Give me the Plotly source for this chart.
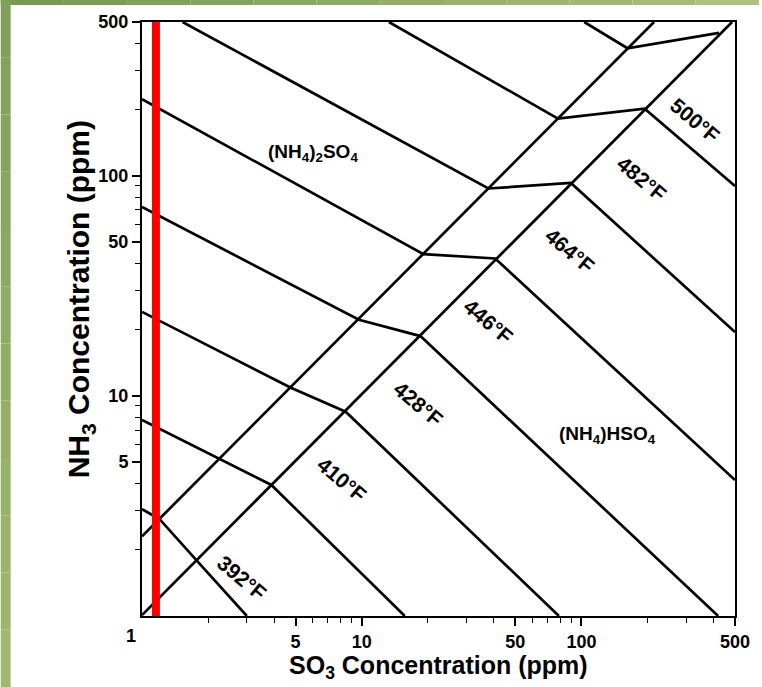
import math
import plotly.graph_objects as go

# ---------------- data ----------------
# phase boundaries (SO3 ppm, NH3 ppm)
bound_upper_so3 = [1.0, 214.0]
bound_upper_nh3 = [2.30, 500.0]
bound_lower_so3 = [1.0, 485.0]
bound_lower_nh3 = [1.01, 500.0]

# isotherms, lowest to highest
iso1_so3 = [1.00, 1.20, 1.78, 3.00]
iso1_nh3 = [3.06, 2.76, 1.78, 1.00]
iso2_so3 = [1.00, 2.26, 3.88, 15.7]
iso2_nh3 = [7.78, 5.17, 3.94, 1.00]
iso3_so3 = [1.00, 4.76, 8.45, 79.0]
iso3_nh3 = [24.1, 10.9, 8.48, 1.00]
iso4_so3 = [1.00, 9.71, 18.5, 419.0]
iso4_nh3 = [72.2, 22.2, 18.7, 1.00]
iso5_so3 = [1.00, 19.1, 40.5, 500.0]
iso5_nh3 = [223.0, 44.1, 42.1, 4.15]
iso6_so3 = [1.53, 37.7, 89.5, 500.0]
iso6_nh3 = [500.0, 87.6, 92.8, 19.5]
iso7_so3 = [13.3, 78.2, 194.0, 500.0]
iso7_nh3 = [500.0, 182.0, 202.0, 89.9]
iso8_so3 = [103.0, 162.0, 423.0]
iso8_nh3 = [500.0, 380.0, 446.0]

temp_labels = ["392°F", "410°F", "428°F", "446°F", "464°F", "482°F", "500°F"]
temp_label_so3 = [2.84, 8.13, 17.97, 37.7, 88.6, 188.0, 330.0]
temp_label_nh3 = [1.50, 4.19, 9.19, 21.7, 46.0, 97.7, 179.0]

phase_labels = ["(NH<sub>4</sub>)<sub>2</sub>SO<sub>4</sub>", "(NH<sub>4</sub>)HSO<sub>4</sub>"]
phase_label_so3 = [6.0, 131.6]
phase_label_nh3 = [126.9, 6.64]

red_line_so3 = [1.157, 1.157]
red_line_nh3 = [1.0, 500.0]

x_tick_vals = [5, 10, 50, 100, 500]
x_tick_text = ["5", "10", "50", "100", "500"]
y_tick_vals = [5, 10, 50, 100, 500]
y_tick_text = ["5", "10", "50", "100", "500"]
minor_vals = [2, 3, 4, 6, 7, 8, 9, 20, 30, 40, 60, 70, 80, 90,
              200, 300, 400]

# ---------------- figure ----------------
W, H = 762, 687
L, R, T, B = 142, 24, 22, 71
PW, PH = W - L - R, H - T - B


def px(xp):
    return (xp - L) / PW


def py(yp):
    return (H - B - yp) / PH


FONT = "Liberation Sans, Arial, sans-serif"

fig = go.Figure()
line_style = dict(color="black", width=2.7)

for xs, ys in [(bound_upper_so3, bound_upper_nh3), (bound_lower_so3, bound_lower_nh3),
               (iso1_so3, iso1_nh3), (iso2_so3, iso2_nh3), (iso3_so3, iso3_nh3),
               (iso4_so3, iso4_nh3), (iso5_so3, iso5_nh3), (iso6_so3, iso6_nh3),
               (iso7_so3, iso7_nh3), (iso8_so3, iso8_nh3)]:
    fig.add_trace(go.Scatter(x=xs, y=ys, mode="lines", line=line_style,
                             showlegend=False, hoverinfo="skip"))

fig.add_trace(go.Scatter(x=red_line_so3, y=red_line_nh3, mode="lines",
                         line=dict(color="#ff0000", width=8),
                         showlegend=False, hoverinfo="skip"))

annotations = []
for t, xv, yv in zip(temp_labels, temp_label_so3, temp_label_nh3):
    annotations.append(dict(x=math.log10(xv), y=math.log10(yv),
                            xref="x", yref="y", text=t, showarrow=False, textangle=40,
                            font=dict(family=FONT, size=21, color="black", weight="bold")))
for t, xv, yv in zip(phase_labels, phase_label_so3, phase_label_nh3):
    annotations.append(dict(x=math.log10(xv), y=math.log10(yv),
                            xref="x", yref="y", text=t, showarrow=False,
                            font=dict(family=FONT, size=19, color="black", weight="bold")))

# axis titles
annotations.append(dict(x=px(440), y=py(667), xref="paper", yref="paper",
                        text="SO<sub>3</sub> Concentration (ppm)", showarrow=False,
                        xanchor="center", yanchor="middle",
                        font=dict(family=FONT, size=25, color="black", weight="bold")))
annotations.append(dict(x=px(80), y=py(299), xref="paper", yref="paper",
                        text="NH<sub>3</sub> Concentration (ppm)", showarrow=False,
                        textangle=-90, xanchor="center", yanchor="middle",
                        font=dict(family=FONT, size=30, color="black", weight="bold")))
# the shared "1" at the origin
annotations.append(dict(x=px(131), y=py(636), xref="paper", yref="paper",
                        text="1", showarrow=False, xanchor="center", yanchor="middle",
                        font=dict(family=FONT, size=18, color="black", weight="bold")))

shapes = []
# green frame strips (top and left), simulated gradient
n = 12
for i in range(n):
    x0 = i * W / n
    x1 = (i + 1) * W / n
    f = i / (n - 1)
    r = int(122 + f * (170 - 122)); g = int(152 + f * (192 - 152)); b = int(86 + f * (125 - 86))
    shapes.append(dict(type="rect", xref="paper", yref="paper", x0=px(x0), x1=px(x1),
                       y0=py(5), y1=py(0), fillcolor=f"rgb({r},{g},{b})", line=dict(width=0),
                       layer="above"))
for i in range(n):
    y0 = i * H / n
    y1 = (i + 1) * H / n
    f = i / (n - 1)
    r = int(130 + f * (160 - 130)); g = int(160 + f * (185 - 160)); b = int(92 + f * (112 - 92))
    shapes.append(dict(type="rect", xref="paper", yref="paper", x0=px(0), x1=px(10),
                       y0=py(y1), y1=py(y0), fillcolor=f"rgb({r},{g},{b})", line=dict(width=0),
                       layer="above"))

axis_common = dict(type="log", range=[0, 2.69897], showgrid=False, zeroline=False,
                   showline=True, linecolor="black", linewidth=2, mirror=True,
                   ticks="outside", ticklen=8, tickwidth=1.5, tickcolor="black",
                   tickfont=dict(family=FONT, size=18, color="black", weight="bold"),
                   minor=dict(tickmode="array", tickvals=minor_vals, ticks="outside",
                              ticklen=5, tickwidth=1.3, tickcolor="black", showgrid=False))

fig.update_layout(
    width=W, height=H,
    margin=dict(l=L, r=R, t=T, b=B, pad=0),
    paper_bgcolor="white", plot_bgcolor="white",
    xaxis=dict(**axis_common, tickmode="array", tickvals=x_tick_vals, ticktext=x_tick_text),
    yaxis=dict(**axis_common, tickmode="array", tickvals=y_tick_vals, ticktext=y_tick_text),
    annotations=annotations, shapes=shapes, showlegend=False,
)

fig.write_html("out.html", config={"displayModeBar": False},
               post_script="document.body.style.margin='0';document.body.style.overflow='hidden';")
